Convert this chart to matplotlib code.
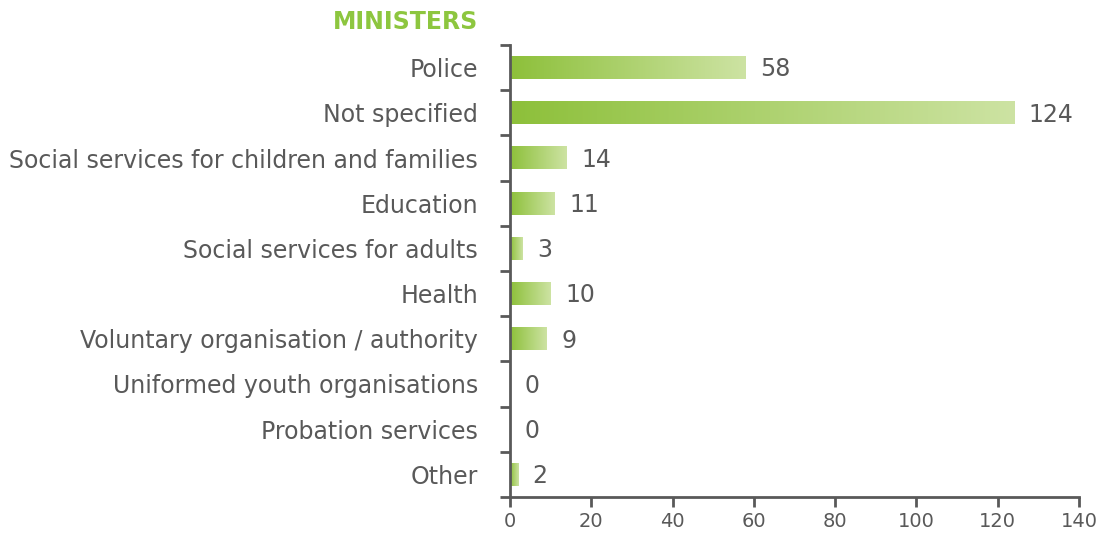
import matplotlib
matplotlib.use("Agg")
import matplotlib.pyplot as plt
import numpy as np
from matplotlib.colors import LinearSegmentedColormap

categories = ["Police", "Not specified", "Social services for children and families",
              "Education", "Social services for adults", "Health",
              "Voluntary organisation / authority", "Uniformed youth organisations",
              "Probation services", "Other"]
values = [58, 124, 14, 11, 3, 10, 9, 0, 0, 2]
xticks = [0, 20, 40, 60, 80, 100, 120, 140]
title = "MINISTERS"

plt.rcParams['font.family'] = ['DejaVu Sans']
gray = "#595959"
green = "#8dc63f"

fig = plt.figure(figsize=(11, 5.34), dpi=100)
ax = fig.add_axes([0.4636, 0.0693, 0.9810 - 0.4636, 0.9157 - 0.0693])

cmap = LinearSegmentedColormap.from_list("g", ["#8dc03a", "#cde3a3"])
grad = np.linspace(0, 1, 256).reshape(1, -1)
n = len(categories)
h = 0.5
for i, v in enumerate(values):
    if v > 0:
        ax.imshow(grad, cmap=cmap, aspect='auto',
                  extent=[0, v, i - h / 2, i + h / 2], interpolation='bicubic', zorder=2)
    ax.text(v + 3.6, i + 0.04, str(v), va='center', ha='left', fontsize=17, color=gray)

ax.set_xlim(0, 140)
ax.set_ylim(n - 0.5, -0.5)
ax.set_xticks(xticks)
ax.set_xticklabels([str(t) for t in xticks], fontsize=14, color=gray)
ax.set_yticks(range(n))
ax.set_yticklabels(categories, fontsize=17, color=gray)
ax.set_yticks(np.arange(-0.5, n, 1), minor=True)
ax.tick_params(axis='y', which='major', length=0, pad=23)
ax.tick_params(axis='y', which='minor', length=7, width=2, color=gray, direction='out')
ax.tick_params(axis='x', length=7, width=2, color=gray, direction='out', pad=4)
for s in ['top', 'right']:
    ax.spines[s].set_visible(False)
for s in ['left', 'bottom']:
    ax.spines[s].set_color(gray)
    ax.spines[s].set_linewidth(2)

fig.text(478 / 1100, 1 - 22 / 534, title, ha='right', va='center', fontsize=17,
         fontweight='bold', color=green)

fig.savefig("out.png", dpi=100)
